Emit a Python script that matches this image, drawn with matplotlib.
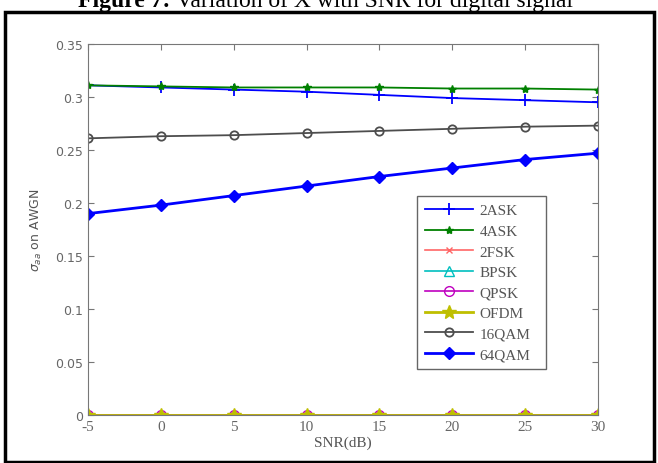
import matplotlib.pyplot as plt
from matplotlib.patches import Rectangle

plt.rcParams['axes.unicode_minus'] = False

# SNR values (dB)
snr = [-5, 0, 5, 10, 15, 20, 25, 30]

# sigma values
ask2 = [0.311, 0.309, 0.307, 0.305, 0.302, 0.299, 0.297, 0.295]
ask4 = [0.311, 0.310, 0.309, 0.309, 0.309, 0.308, 0.308, 0.307]
fsk2 = [0, 0, 0, 0, 0, 0, 0, 0]
bpsk = [0, 0, 0, 0, 0, 0, 0, 0]
qpsk = [0, 0, 0, 0, 0, 0, 0, 0]
ofdm = [0, 0, 0, 0, 0, 0, 0, 0]
qam16 = [0.261, 0.263, 0.264, 0.266, 0.268, 0.270, 0.272, 0.273]
qam64 = [0.190, 0.198, 0.207, 0.216, 0.225, 0.233, 0.241, 0.247]

labels = ['2ASK', '4ASK', '2FSK', 'BPSK', 'QPSK', 'OFDM', '16QAM', '64QAM']
xticks = [-5, 0, 5, 10, 15, 20, 25, 30]
yticks = [0, 0.05, 0.1, 0.15, 0.2, 0.25, 0.3, 0.35]

fig = plt.figure(figsize=(6.58, 4.64), dpi=100)
ax = fig.add_axes([88/658, 1-416/464, 510/658, 371/464])

ax.plot(snr, ask2, color='b', marker='+', ms=9, mew=1.3, lw=1.3, label=labels[0])
ax.plot(snr, ask4, color=(0, 0.5, 0), marker='*', ms=6, lw=1.3, label=labels[1])
ax.plot(snr, fsk2, color=(1, 0.4, 0.4), marker='x', ms=4, lw=1.2, label=labels[2])
ax.plot(snr, bpsk, color='c', marker='^', ms=7, mfc='none', lw=1.2, label=labels[3])
ax.plot(snr, qpsk, color='m', marker='o', ms=7, mfc='none', lw=1.2, label=labels[4])
ax.plot(snr, ofdm, color=(0.75, 0.75, 0), marker='*', ms=10, lw=2, label=labels[5])
ax.plot(snr, qam16, color=(0.3, 0.3, 0.3), marker='o', ms=6, mfc='none', mew=1.3, lw=1.3, label=labels[6])
ax.plot(snr, qam64, color='b', marker='D', ms=6, lw=2, label=labels[7])

ax.set_xlim(-5, 30)
ax.set_ylim(0, 0.35)
ax.set_xticks(xticks)
ax.set_yticks(yticks)
ax.set_yticklabels(['0', '0.05', '0.1', '0.15', '0.2', '0.25', '0.3', '0.35'])
ax.tick_params(direction='in', top=True, right=True, length=4, colors='#777777', labelcolor='#666666')
for lab in ax.get_xticklabels():
    lab.set_fontfamily('Liberation Serif')
    lab.set_fontsize(11)
for lab in ax.get_yticklabels():
    lab.set_fontfamily('DejaVu Sans')
    lab.set_fontsize(9)
for s in ax.spines.values():
    s.set_color('#777777')

ax.set_xlabel('SNR(dB)', family='Liberation Serif', fontsize=11, color='#555555', labelpad=2)
ax.set_ylabel(r'$\sigma_{aa}$ on AWGN', fontsize=9, color='#555555', labelpad=8)

leg = ax.legend(loc='lower left', bbox_to_anchor=(0.645, 0.124, 0.253, 0.453), mode='expand',
                prop={'family': 'Liberation Serif', 'size': 11}, fancybox=False,
                edgecolor='#666666', framealpha=1, handlelength=3.2, labelspacing=0.45,
                borderaxespad=0, handletextpad=0.4, borderpad=0.5)
for t in leg.get_texts():
    t.set_color('#555555')

# outer frame and figure caption (caption is clipped at the top, as in the source)
fig.patches.append(Rectangle((5/658, 1/464), 649/658, 450/464, transform=fig.transFigure,
                             fill=False, edgecolor='black', lw=2.5))
fig.text(170/658, 1 - 7/464, 'Figure 7:', ha='right', va='baseline',
         family='Liberation Serif', fontweight='bold', fontsize=17)
fig.text(176/658, 1 - 7/464, 'Variation of X with SNR for digital signal', ha='left', va='baseline',
         family='Liberation Serif', fontsize=17)

plt.savefig('out.png', dpi=100)
